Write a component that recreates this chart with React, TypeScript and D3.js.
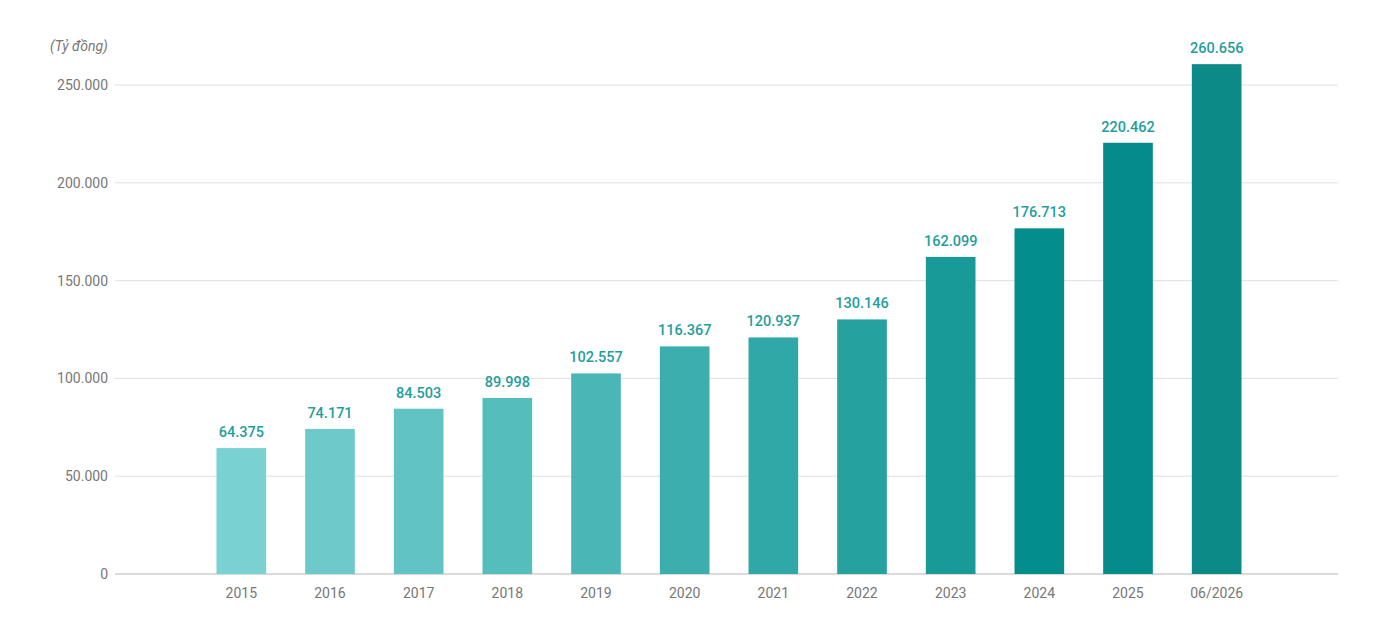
import React from 'react';
import * as d3 from 'd3';

const categories = ['2015', '2016', '2017', '2018', '2019', '2020', '2021', '2022', '2023', '2024', '2025', '06/2026'];
const values = [64375, 74171, 84503, 89998, 102557, 116367, 120937, 130146, 162099, 176713, 220462, 260656];
const barColors = [
  '#7ad1d1', '#6ecaca', '#61c3c3', '#56bdbd', '#4ab6b6', '#3daeae',
  '#31a8a8', '#25a1a0', '#189a99', '#038d8b', '#058c8a', '#0b8a87',
];
const yTicks = [0, 50000, 100000, 150000, 200000, 250000];

const W = 1381;
const H = 623;

const fmt = (v: number) => d3.format(',')(v).replace(/,/g, '.');

const App: React.FC = () => {
  const x = d3.scaleBand<string>().domain(categories).range([197, 1261]).paddingInner(0.44).paddingOuter(0.22);
  const y = d3.scaleLinear().domain([0, 250000]).range([574, 85]);
  const font = 'Roboto, sans-serif';

  return (
    <svg width={W} height={H} style={{ position: 'absolute', left: 0, top: 0, background: '#fff' }}>
      <text x={50} y={51} fontFamily={font} fontSize={14} fontStyle="italic" fill="#777">(Tỷ đồng)</text>
      {yTicks.map((t) => (
        <g key={t}>
          <line x1={115} x2={1338} y1={y(t)} y2={y(t)} stroke={t === 0 ? '#cfcfcf' : '#e0e0e0'} strokeWidth={t === 0 ? 1.5 : 1} />
          <text x={108} y={y(t)} dy="0.35em" textAnchor="end" fontFamily={font} fontSize={14} fill="#777">
            {t === 0 ? '0' : fmt(t)}
          </text>
        </g>
      ))}
      {categories.map((c, i) => {
        const bx = x(c)!;
        const bw = x.bandwidth();
        return (
          <g key={c}>
            <rect x={bx} y={y(values[i])} width={bw} height={y(0) - y(values[i])} fill={barColors[i]} />
            <text x={bx + bw / 2} y={y(values[i]) - 11} textAnchor="middle" fontFamily={font} fontSize={14.5} fontWeight={500} fill="#1f9e9c">
              {fmt(values[i])}
            </text>
            <text x={bx + bw / 2} y={598} textAnchor="middle" fontFamily={font} fontSize={14} fill="#777">{c}</text>
          </g>
        );
      })}
    </svg>
  );
};

export default App;
